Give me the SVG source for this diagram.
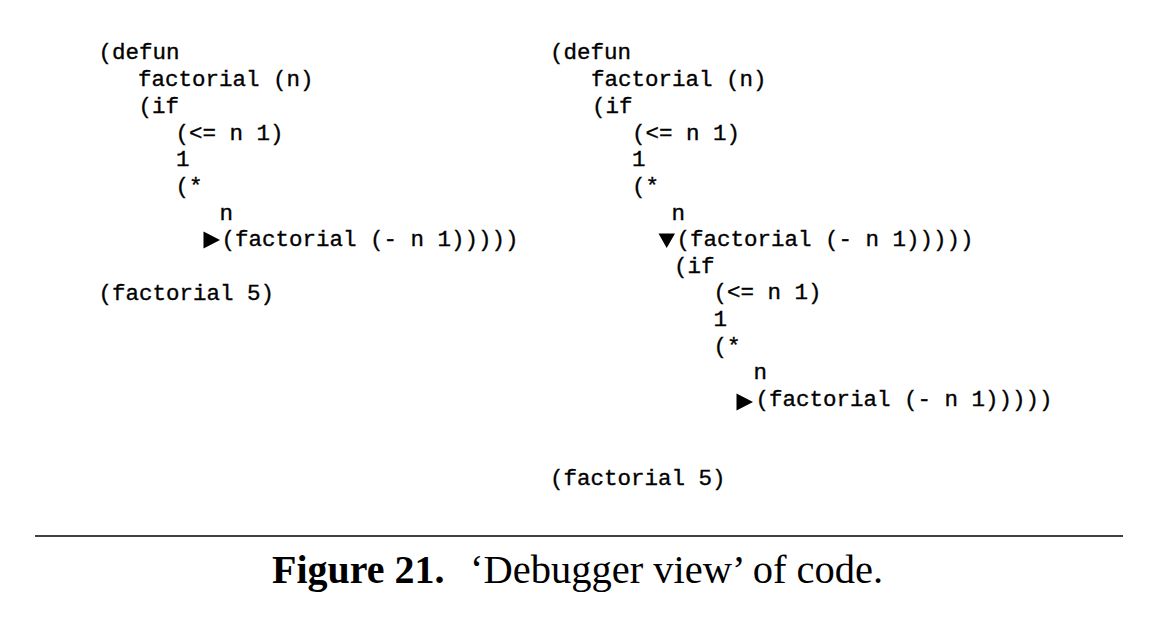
<svg xmlns="http://www.w3.org/2000/svg" width="1164" height="620" viewBox="0 0 1164 620">
<style>
.code{font-family:"Liberation Mono","Courier New",monospace;font-size:22.5px;fill:#000;stroke:#000;stroke-width:0.35}
.mk{fill:#000}
.cap{font-family:"Liberation Serif","Times New Roman",serif;font-size:40px;fill:#000}
</style>
<rect width="1164" height="620" fill="#fff"/>
<g id="left-code">
<text class="code" x="98.5" y="59">(defun</text>
<text class="code" x="138" y="86">factorial (n)</text>
<text class="code" x="138.5" y="113">(if</text>
<text class="code" x="175.5" y="139.5">(&lt;= n 1)</text>
<text class="code" x="176" y="166">1</text>
<text class="code" x="175.5" y="193">(*</text>
<text class="code" x="219.5" y="219.5">n</text>
<polygon class="mk" points="203.5,231.5 220,240 203.5,248.5"/>
<text class="code" x="221.5" y="246">(factorial (- n 1)))))</text>
<text class="code" x="98.5" y="299.5">(factorial 5)</text>
</g>
<g id="right-code">
<text class="code" x="550" y="59">(defun</text>
<text class="code" x="591" y="86">factorial (n)</text>
<text class="code" x="592" y="113">(if</text>
<text class="code" x="632" y="139.5">(&lt;= n 1)</text>
<text class="code" x="632" y="166">1</text>
<text class="code" x="632" y="193">(*</text>
<text class="code" x="671.5" y="219.5">n</text>
<polygon class="mk" points="658.5,233.5 675,233.5 666.7,248"/>
<text class="code" x="676.5" y="246">(factorial (- n 1)))))</text>
<text class="code" x="674" y="272.5">(if</text>
<text class="code" x="713.5" y="299">(&lt;= n 1)</text>
<text class="code" x="713.5" y="326">1</text>
<text class="code" x="713.5" y="352.5">(*</text>
<text class="code" x="753.5" y="379">n</text>
<polygon class="mk" points="736.5,393.5 753,402 736.5,410.5"/>
<text class="code" x="755.5" y="406">(factorial (- n 1)))))</text>
<text class="code" x="550" y="485">(factorial 5)</text>
</g>
<g id="caption">
<line x1="35" y1="536" x2="1123" y2="536" stroke="#000" stroke-width="1.5"/>
<text class="cap" y="583"><tspan x="272" font-weight="bold">Figure 21.</tspan><tspan x="470" font-size="40.5">‘Debugger view’ of code.</tspan></text>
</g>
</svg>
